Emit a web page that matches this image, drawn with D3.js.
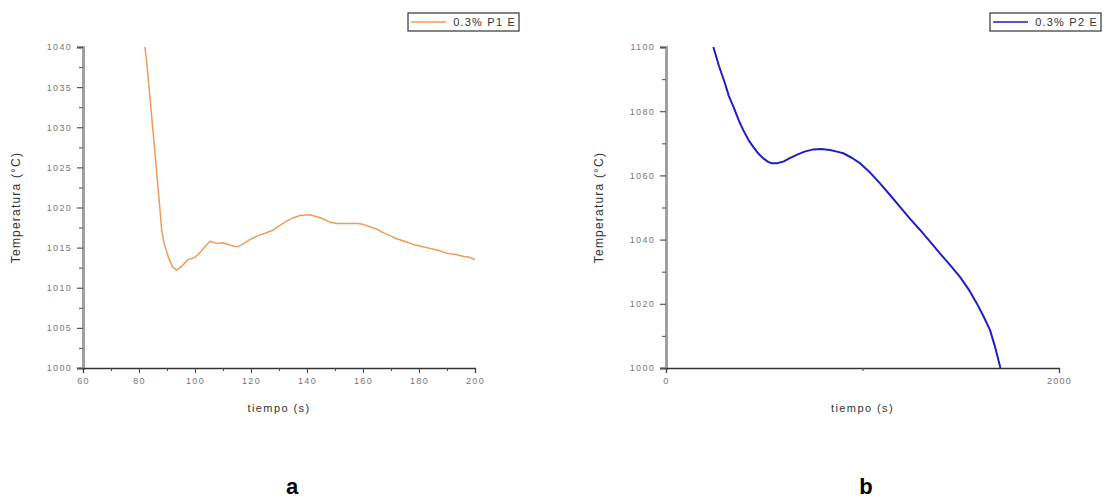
<!DOCTYPE html>
<html>
<head>
<meta charset="utf-8">
<script src="https://cdn.jsdelivr.net/npm/d3@7"></script>
<style>
  body { margin: 0; background: #fff; }
  svg { display: block; font-family: "Liberation Sans", Arial, sans-serif; }
  .tick text { fill: #777; font-size: 9px; letter-spacing: 1.3px; }
</style>
</head>
<body>
<svg id="fig" width="1106" height="500"></svg>
<script>
// Cooling curve, probe P1 (time in s, temperature in °C)
const timeP1 = [82.1, 82.7, 84.1, 85.9, 87.3, 88.1, 89, 90.5, 92, 93.4, 95, 97.5, 100, 101.8, 104, 105.4,
  108, 110, 112.5, 115, 117, 119.6, 122.5, 125, 128, 130, 132.7, 135, 137.5, 141, 143, 145.7, 148, 150.6,
  155, 158, 160, 162.5, 165, 167, 169.6, 172, 175.6, 178, 181.5, 184, 187.5, 190, 193.5, 196, 198, 200];
const tempP1 = [1040, 1038.4, 1033, 1026, 1020.5, 1017.2, 1015.5, 1013.8, 1012.6, 1012.2, 1012.6, 1013.5,
  1013.8, 1014.4, 1015.3, 1015.8, 1015.5, 1015.6, 1015.3, 1015.1, 1015.4, 1016, 1016.5, 1016.8, 1017.2,
  1017.7, 1018.3, 1018.7, 1019, 1019.1, 1018.9, 1018.6, 1018.2, 1018, 1018, 1018, 1017.9, 1017.6, 1017.3,
  1016.9, 1016.5, 1016.1, 1015.7, 1015.4, 1015.1, 1014.9, 1014.6, 1014.3, 1014.1, 1013.9, 1013.8, 1013.5];

// Cooling curve, probe P2
const timeP2 = [241, 270, 300, 320, 343, 370, 393, 420, 444, 470, 495, 520, 538, 565, 597, 630, 665, 705,
  750, 790, 835, 870, 902, 945, 987, 1040, 1089, 1140, 1191, 1240, 1293, 1345, 1394, 1445, 1496, 1540,
  1581, 1615, 1649, 1675, 1702];
const tempP2 = [1100, 1094, 1088.7, 1084.7, 1081.4, 1077.2, 1074.1, 1071, 1068.9, 1066.8, 1065.3, 1064.2,
  1063.8, 1063.8, 1064.3, 1065.4, 1066.4, 1067.4, 1068.1, 1068.2, 1067.9, 1067.4, 1066.9, 1065.5, 1063.8,
  1060.8, 1057.5, 1053.9, 1050.2, 1046.6, 1043, 1039.3, 1035.7, 1032.1, 1028.4, 1024.5, 1020.2, 1016.2,
  1011.8, 1006.5, 1000];

// Tick values
const xTicksA = [60, 80, 100, 120, 140, 160, 180, 200];
const xMinorA = [70, 90, 110, 130, 150, 170, 190];
const yTicksA = [1000, 1005, 1010, 1015, 1020, 1025, 1030, 1035, 1040];
const yMinorA = [1002.5, 1007.5, 1012.5, 1017.5, 1022.5, 1027.5, 1032.5, 1037.5];
const xTicksB = [0, 2000];
const xMinorB = [1000];
const yTicksB = [1000, 1020, 1040, 1060, 1080, 1100];
const yMinorB = [1010, 1030, 1050, 1070, 1090];

const legendA = "0.3% P1 E";
const legendB = "0.3% P2 E";
const panelLetters = ["a", "b"];

const svg = d3.select("#fig");

function panel(opts) {
  const { left, right, top, bottom, xDomain, yDomain, xs, ys, xTicks, xMinor, yTicks, yMinor,
          color, width, legend, legendBox, letterX } = opts;
  const x = d3.scaleLinear().domain(xDomain).range([left, right]);
  const y = d3.scaleLinear().domain(yDomain).range([bottom, top]);
  const g = svg.append("g");

  // y axis: thick grey spine
  const yAxis = g.append("g").attr("transform", `translate(${left},0)`)
    .call(d3.axisLeft(y).tickValues(yTicks).tickFormat(d3.format("d")).tickSize(6).tickPadding(5));
  yAxis.select(".domain").attr("stroke", "#a0a0a0").attr("stroke-width", 3);
  yAxis.selectAll(".tick line").attr("stroke", "#555").attr("stroke-width", 1.2);
  g.append("g").attr("transform", `translate(${left},0)`)
    .call(d3.axisLeft(y).tickValues(yMinor).tickFormat("").tickSize(4))
    .call(s => s.select(".domain").remove())
    .selectAll(".tick line").attr("stroke", "#666").attr("stroke-width", 1.2);

  // x axis: thin dark spine
  const xAxis = g.append("g").attr("transform", `translate(0,${bottom})`)
    .call(d3.axisBottom(x).tickValues(xTicks).tickFormat(d3.format("d")).tickSize(5).tickPadding(5));
  xAxis.select(".domain").attr("stroke", "#333").attr("stroke-width", 1.3);
  xAxis.selectAll(".tick line").attr("stroke", "#444");
  g.append("g").attr("transform", `translate(0,${bottom})`)
    .call(d3.axisBottom(x).tickValues(xMinor).tickFormat("").tickSize(3))
    .call(s => s.select(".domain").remove())
    .selectAll(".tick line").attr("stroke", "#444");

  // curve
  const pts = xs.map((t, i) => [t, ys[i]]);
  g.append("path").datum(pts)
    .attr("fill", "none").attr("stroke", color).attr("stroke-width", width)
    .attr("stroke-linejoin", "round")
    .attr("d", d3.line().x(d => x(d[0])).y(d => y(d[1])));

  // axis titles
  g.append("text")
    .attr("transform", `translate(${left - 63},${(top + bottom) / 2}) rotate(-90)`)
    .attr("text-anchor", "middle").attr("fill", "#333")
    .style("font-size", "12px").style("letter-spacing", "1.2px")
    .text("Temperatura (°C)");
  g.append("text")
    .attr("x", (left + right) / 2).attr("y", 412)
    .attr("text-anchor", "middle").attr("fill", "#333")
    .style("font-size", "11px").style("letter-spacing", "1.4px")
    .text("tiempo (s)");

  // legend
  const [lx, ly, lw, lh] = legendBox;
  g.append("rect").attr("x", lx).attr("y", ly).attr("width", lw).attr("height", lh)
    .attr("fill", "#fff").attr("stroke", "#333").attr("stroke-width", 1.2);
  g.append("line").attr("x1", lx + 3).attr("x2", lx + 38).attr("y1", ly + lh / 2).attr("y2", ly + lh / 2)
    .attr("stroke", color).attr("stroke-width", 1.3);
  g.append("text").attr("x", lx + lw - 3).attr("y", ly + lh / 2 + 4)
    .attr("text-anchor", "end").attr("fill", "#333")
    .style("font-size", "11px").style("letter-spacing", "1.2px")
    .text(legend);

  // panel letter
  g.append("text").attr("x", letterX).attr("y", 494)
    .attr("text-anchor", "middle").attr("fill", "#000")
    .style("font-size", "22px").style("font-weight", "bold")
    .text(opts.letter);
}

panel({
  left: 83, right: 475, top: 47, bottom: 368,
  xDomain: [60, 200], yDomain: [1000, 1040],
  xs: timeP1, ys: tempP1,
  xTicks: xTicksA, xMinor: xMinorA, yTicks: yTicksA, yMinor: yMinorA,
  color: "#ee9c5a", width: 1.5, legend: legendA, legendBox: [408, 13, 111, 18],
  letter: panelLetters[0], letterX: 292
});

panel({
  left: 666, right: 1059, top: 47, bottom: 368,
  xDomain: [0, 2000], yDomain: [1000, 1100],
  xs: timeP2, ys: tempP2,
  xTicks: xTicksB, xMinor: xMinorB, yTicks: yTicksB, yMinor: yMinorB,
  color: "#1f1fc8", width: 2, legend: legendB, legendBox: [990, 13, 111, 18],
  letter: panelLetters[1], letterX: 866
});
</script>
</body>
</html>
